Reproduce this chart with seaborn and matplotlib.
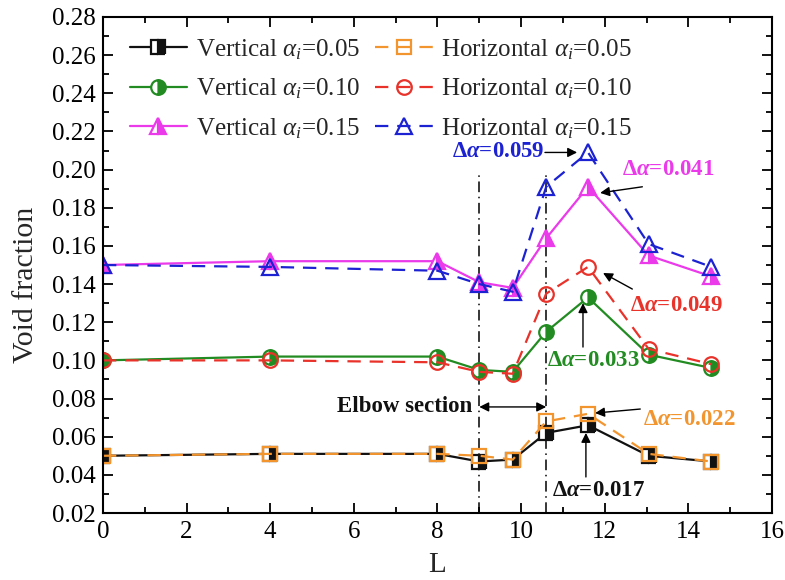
import numpy as np
import pandas as pd
import seaborn as sns
import matplotlib
matplotlib.use("Agg")
import matplotlib.pyplot as plt
from matplotlib.ticker import MultipleLocator, FormatStrFormatter

L = [0, 4, 8, 9.0, 9.8, 10.6, 11.6, 13.05, 14.55]
vert_005 = [0.050, 0.051, 0.051, 0.047, 0.048, 0.062, 0.066, 0.050, 0.047]
hori_005 = [0.050, 0.051, 0.051, 0.050, 0.048, 0.068, 0.072, 0.051, 0.047]
vert_010 = [0.100, 0.102, 0.102, 0.095, 0.094, 0.115, 0.133, 0.103, 0.096]
hori_010 = [0.100, 0.100, 0.099, 0.094, 0.093, 0.135, 0.149, 0.106, 0.098]
vert_015 = [0.150, 0.152, 0.152, 0.141, 0.138, 0.164, 0.191, 0.155, 0.144]
hori_015 = [0.150, 0.149, 0.147, 0.140, 0.136, 0.191, 0.209, 0.161, 0.149]
elbow_bounds = [9.0, 10.6]

sns.set_style("ticks")
plt.rcParams['font.family'] = ['Liberation Serif', 'DejaVu Serif']
plt.rcParams['mathtext.fontset'] = 'custom'
plt.rcParams['mathtext.rm'] = 'Liberation Serif'
plt.rcParams['mathtext.it'] = 'Liberation Serif:italic'
plt.rcParams['mathtext.bf'] = 'Liberation Serif:bold'
plt.rcParams['mathtext.bfit'] = 'Liberation Serif:italic:bold'

fig = plt.figure(figsize=(7.85, 5.8), dpi=100)
ax = fig.add_axes([0.1312, 0.1155, 0.8522, 0.8552])

black = '#111111'
green = '#228b22'
magenta = '#ea3aea'
orange = '#f2952f'
red = '#e8322a'
blue = '#1c22d2'

dash = (0, (6, 4))
series = [
    (vert_005, black, 's', 'right', '-', r'Vertical $\alpha_i$=0.05'),
    (vert_010, green, 'o', 'right', '-', r'Vertical $\alpha_i$=0.10'),
    (vert_015, magenta, '^', 'right', '-', r'Vertical $\alpha_i$=0.15'),
    (hori_005, orange, 's', 'none', dash, r'Horizontal $\alpha_i$=0.05'),
    (hori_010, red, 'o', 'none', dash, r'Horizontal $\alpha_i$=0.10'),
    (hori_015, blue, '^', 'none', dash, r'Horizontal $\alpha_i$=0.15'),
]

handles = []
for vals, col, mk, fs, ls, lab in series:
    df = pd.DataFrame({'L': L, 'v': vals})
    sns.lineplot(data=df, x='L', y='v', ax=ax, color=col, marker=mk,
                 markersize=10.5 if mk != '^' else 12, linewidth=1.6,
                 linestyle=ls, fillstyle=fs,
                 markerfacecoloralt='white', markeredgecolor=col,
                 markeredgewidth=1.6, label=lab, legend=False)
    handles.append(ax.get_lines()[-1])

for xb in elbow_bounds:
    ax.axvline(xb, ymin=0.0, ymax=(0.197 - 0.02) / 0.26, color='black',
               linestyle=(0, (7, 3, 1, 3)), linewidth=1.1, zorder=1)

ax.legend(handles=handles, ncol=2, loc='upper left', frameon=False,
          fontsize=18, handlelength=2.3, handletextpad=0.35,
          columnspacing=0.6, labelspacing=0.6, borderaxespad=0.0,
          borderpad=0.4, bbox_to_anchor=(0.025, 0.98))

ax.set_xlim(0, 16)
ax.set_ylim(0.02, 0.28)
ax.xaxis.set_major_locator(MultipleLocator(2))
ax.xaxis.set_minor_locator(MultipleLocator(1))
ax.yaxis.set_major_locator(MultipleLocator(0.02))
ax.yaxis.set_minor_locator(MultipleLocator(0.01))
ax.yaxis.set_major_formatter(FormatStrFormatter('%.2f'))
ax.tick_params(which='both', direction='in', top=True, right=True,
               labelsize=18, width=1.3, colors='black')
ax.tick_params(which='major', length=7)
ax.tick_params(which='minor', length=4)
ax.tick_params(axis='y', pad=5)
ax.tick_params(axis='x', pad=6)
for sp in ax.spines.values():
    sp.set_linewidth(1.5)
    sp.set_color('black')
ax.set_xlabel('L', fontsize=21, labelpad=6)
ax.set_ylabel('Void fraction', fontsize=21.5, labelpad=8)
ax.yaxis.set_label_coords(-0.095, 0.46)

fs_ann = 16.5
def label(x, y, s, col, ha='left'):
    ax.text(x, y, 'Δ$\\mathbfit{\\alpha}$' + s, color=col, ha=ha, va='center',
            fontsize=fs_ann, fontweight='bold')

def arrow(tail, head, style='-|>'):
    ax.annotate('', xy=head, xytext=tail,
                arrowprops=dict(arrowstyle=style, color='black', lw=1.0,
                                mutation_scale=14, shrinkA=0, shrinkB=0))

label(8.35, 0.2093, '=0.059', blue)
arrow((10.57, 0.209), (11.34, 0.209))
label(12.42, 0.1998, '=0.041', magenta)
arrow((12.9, 0.191), (11.89, 0.1878))
label(12.6, 0.129, '=0.049', red)
arrow((12.66, 0.1374), (11.96, 0.1458))
label(10.62, 0.1002, '=0.033', green)
arrow((11.48, 0.107), (11.48, 0.130))
label(12.92, 0.0688, '=0.022', orange)
arrow((12.85, 0.0745), (11.77, 0.0724))
label(10.74, 0.032, '=0.017', black)
arrow((11.55, 0.0389), (11.55, 0.062))
ax.text(8.83, 0.0756, 'Elbow section', color=black, ha='right',
        va='center', fontsize=fs_ann, fontweight='bold')
arrow((elbow_bounds[0], 0.0756), (elbow_bounds[1], 0.0756), style='<|-|>')

fig.savefig('out.png', dpi=100)
